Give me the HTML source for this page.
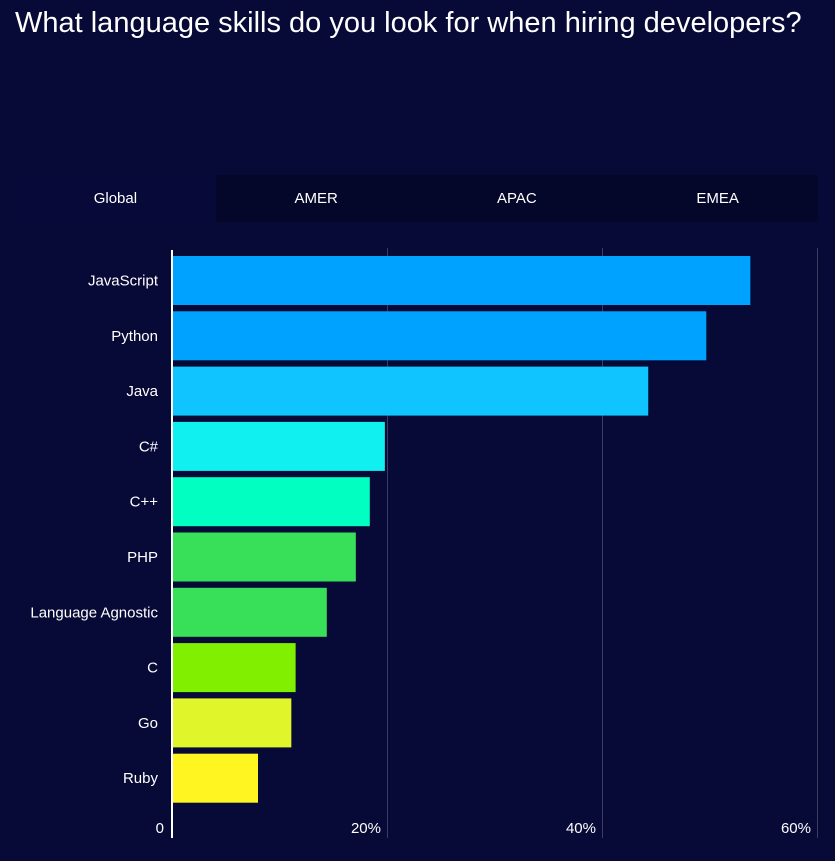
<!DOCTYPE html>
<html><head><meta charset="utf-8">
<style>
html,body{margin:0;padding:0;background:#070a36;width:835px;height:861px;overflow:hidden;font-family:"Liberation Sans","DejaVu Sans",sans-serif;color:#fff}
#title{position:absolute;left:15px;top:4px;font-size:29px;line-height:38px;margin:0;font-weight:normal;width:800px}
#tabs{position:absolute;left:15px;top:175px;width:803px;height:47px;background:#05072a;display:flex}
.tab{flex:1;text-align:center;line-height:47px;font-size:15px;color:#fff}
.tab.active{background:#070a38}
svg{position:absolute;left:0;top:0}
</style></head><body>
<h1 id="title">What language skills do you look for when hiring developers?</h1>
<div id="tabs">
<div class="tab active">Global</div>
<div class="tab">AMER</div>
<div class="tab">APAC</div>
<div class="tab">EMEA</div>
</div>
<svg id="chart" width="835" height="861"></svg>
<script>
const categories=["JavaScript","Python","Java","C#","C++","PHP","Language Agnostic","C","Go","Ruby"];
const values=[53.8,49.7,44.3,19.8,18.4,17.1,14.4,11.5,11.1,8.0];
const colors=["#00a2ff","#00a2ff","#10c4ff","#10f0f0","#00ffc0","#38e05a","#38e05a","#80f000","#e0f52a","#fff520"];
const tickValues=[0,20,40,60];
const tickLabels=["0","20%","40%","60%"];
const NS="http://www.w3.org/2000/svg";
const svg=document.getElementById('chart');
const x0=172,pxPer=10.75,top0=253,step=55.3,barH=49;
const xs=v=>x0+v*pxPer;
const ys=i=>top0+3+i*step;
function mk(t,a){const e=document.createElementNS(NS,t);for(const k in a)e.setAttribute(k,a[k]);svg.appendChild(e);return e;}
tickValues.forEach((v,i)=>{
  if(v>0){const l=mk('line',{x1:xs(v)+0.5,x2:xs(v)+0.5,y1:top0-5,y2:838,stroke:'#3a3d60','stroke-width':1});
  
  }
  const t=mk('text',{x:v===0?x0-8:xs(v)-6,y:833,'text-anchor':'end','font-size':15,fill:'#fff'});
  t.textContent=tickLabels[i];
  
  
});
categories.forEach((c,i)=>{
  const r=mk('rect',{x:x0+1,y:ys(i),width:xs(values[i])-x0-1,height:barH,fill:colors[i]});
  
  
  const t=mk('text',{x:158,y:ys(i)+barH/2+5,'text-anchor':'end','font-size':15,fill:'#fff'});
  t.textContent=c;
  
  
});
const ax=mk('line',{x1:x0,x2:x0,y1:top0-3,y2:838,stroke:'#fff','stroke-width':2});


</script>
</body></html>
